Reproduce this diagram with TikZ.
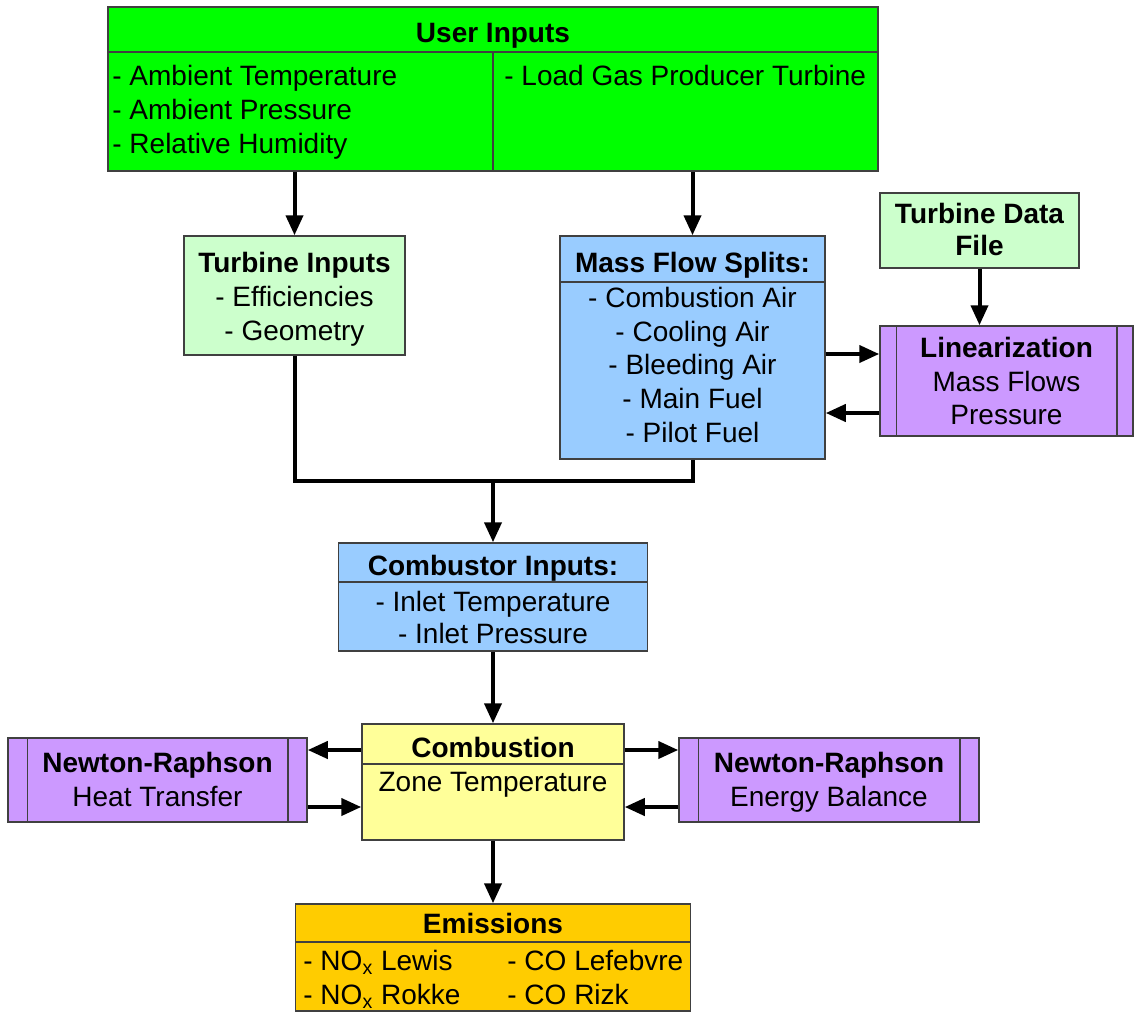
\documentclass[tikz,border=0pt]{standalone}
\usepackage{fontspec}
\setmainfont{Liberation Sans}
\usetikzlibrary{arrows.meta}
\definecolor{ugreen}{HTML}{00FF00}
\definecolor{lgreen}{HTML}{CCFFCC}
\definecolor{lblue}{HTML}{99CCFF}
\definecolor{lpurple}{HTML}{CC99FF}
\definecolor{lyellow}{HTML}{FFFF99}
\definecolor{lorange}{HTML}{FFCC00}
\definecolor{bordercol}{HTML}{404040}
\tikzset{
  box/.style={draw=bordercol, line width=0.75pt, inner sep=0pt, rectangle},
  sep/.style={draw=bordercol, line width=0.75pt},
  arr/.style={line width=2pt, -{Triangle[length=10pt,width=8.5pt]}},
  conn/.style={line width=2pt},
  txt/.style={inner sep=0pt, anchor=base, font=\fontsize{14}{17}\selectfont},
  txtl/.style={inner sep=0pt, anchor=base west, font=\fontsize{14}{17}\selectfont},
  ttl/.style={inner sep=0pt, anchor=base, font=\fontsize{14}{17}\selectfont\bfseries},
}
\begin{document}
\begin{tikzpicture}[x=0.5pt,y=-0.5pt]
\useasboundingbox (0,0) rectangle (1136,1013);
% boxes
\node[box, fill=ugreen, minimum width=385pt, minimum height=82pt] (user) at (493,89) {};
\node[box, fill=lgreen, minimum width=110.5pt, minimum height=59.5pt] (tin) at (294.5,295.5) {};
\node[box, fill=lblue, minimum width=132.5pt, minimum height=111.5pt] (mfs) at (692.5,347.5) {};
\node[box, fill=lgreen, minimum width=99.5pt, minimum height=37.5pt] (tdf) at (979.5,230.5) {};
\node[box, fill=lpurple, minimum width=126.5pt, minimum height=55pt] (lin) at (1006.5,381) {};
\node[box, fill=lblue, minimum width=154.5pt, minimum height=54pt] (cin) at (493,597) {};
\node[box, fill=lyellow, minimum width=131pt, minimum height=58pt] (comb) at (493,782) {};
\node[box, fill=lpurple, minimum width=149.5pt, minimum height=42pt] (nrh) at (157.5,780) {};
\node[box, fill=lpurple, minimum width=150pt, minimum height=42pt] (nre) at (829,780) {};
\node[box, fill=lorange, minimum width=197.5pt, minimum height=53.5pt] (emis) at (493,957.5) {};
% dividers
\draw[sep] (user.west |- 0,52) -- (user.east |- 0,52);
\draw[sep] (493,52) -- (user.south -| 493,0);
\draw[sep] (mfs.west |- 0,282) -- (mfs.east |- 0,282);
\draw[sep] (cin.west |- 0,582) -- (cin.east |- 0,582);
\draw[sep] (comb.west |- 0,764) -- (comb.east |- 0,764);
\draw[sep] (emis.west |- 0,942) -- (emis.east |- 0,942);
\draw[sep] ([xshift=8.5pt]lin.north west) -- ([xshift=8.5pt]lin.south west);
\draw[sep] ([xshift=-8.5pt]lin.north east) -- ([xshift=-8.5pt]lin.south east);
\draw[sep] ([xshift=10pt]nrh.north west) -- ([xshift=10pt]nrh.south west);
\draw[sep] ([xshift=-10pt]nrh.north east) -- ([xshift=-10pt]nrh.south east);
\draw[sep] ([xshift=10pt]nre.north west) -- ([xshift=10pt]nre.south west);
\draw[sep] ([xshift=-10pt]nre.north east) -- ([xshift=-10pt]nre.south east);
% texts
\node[ttl] (userT) at (493,42) {User Inputs};
\node[txtl] (u1) at (112,85) {- Ambient Temperature};
\node[txtl] (u2) at (112,119) {- Ambient Pressure};
\node[txtl] (u3) at (112,153) {- Relative Humidity};
\node[txtl] (u4) at (504,85) {- Load Gas Producer Turbine};
\node[ttl] (tinT) at (294.5,272) {Turbine Inputs};
\node[txt] (ti1) at (294.5,306) {- Efficiencies};
\node[txt] (ti2) at (294.5,340) {- Geometry};
\node[ttl] (tdfT1) at (979.5,223) {Turbine Data};
\node[ttl] (tdfT2) at (979.5,255) {File};
\node[ttl] (mfsT) at (692.5,272) {Mass Flow Splits:};
\node[txt] (m1) at (692.5,307) {- Combustion Air};
\node[txt] (m2) at (692.5,341) {- Cooling Air};
\node[txt] (m3) at (692.5,374) {- Bleeding Air};
\node[txt] (m4) at (692.5,408) {- Main Fuel};
\node[txt] (m5) at (692.5,442) {- Pilot Fuel};
\node[ttl] (linT) at (1006.5,357) {Linearization};
\node[txt] (l1) at (1006.5,391) {Mass Flows};
\node[txt] (l2) at (1006.5,424) {Pressure};
\node[ttl] (cinT) at (493,575) {Combustor Inputs:};
\node[txt] (c1) at (493,611) {- Inlet Temperature};
\node[txt] (c2) at (493,643) {- Inlet Pressure};
\node[ttl] (combT) at (493,757) {Combustion};
\node[txt] (cb1) at (493,791) {Zone Temperature};
\node[ttl] (nrhT) at (157.5,772) {Newton-Raphson};
\node[txt] (nh1) at (157.5,806) {Heat Transfer};
\node[ttl] (nreT) at (829,772) {Newton-Raphson};
\node[txt] (ne1) at (829,806) {Energy Balance};
\node[ttl] (emisT) at (493,933) {Emissions};
\node[txtl] (e1) at (303,970) {- NO\textsubscript{x} Lewis};
\node[txtl] (e2) at (303,1004) {- NO\textsubscript{x} Rokke};
\node[txtl] (e3) at (507,970) {- CO Lefebvre};
\node[txtl] (e4) at (507,1004) {- CO Rizk};
% connectors
\draw[arr] (user.south -| tin.north) -- (tin.north);
\draw[arr] (user.south -| mfs.north) -- (mfs.north);
\draw[arr] (tdf.south) -- (tdf.south |- lin.north);
\draw[arr] (mfs.east |- 0,354) -- (lin.west |- 0,354);
\draw[arr] (lin.west |- 0,413) -- (mfs.east |- 0,413);
\coordinate (junc) at (cin.north |- 0,481);
\draw[conn] (tin.south) |- (junc) -| (mfs.south);
\draw[arr] (junc) -- (cin.north);
\draw[arr] (cin.south) -- (comb.north);
\draw[arr] (comb.west |- 0,750) -- (nrh.east |- 0,750);
\draw[arr] (nrh.east |- 0,807) -- (comb.west |- 0,807);
\draw[arr] (comb.east |- 0,750) -- (nre.west |- 0,750);
\draw[arr] (nre.west |- 0,807) -- (comb.east |- 0,807);
\draw[arr] (comb.south) -- (emis.north);
\end{tikzpicture}
\end{document}
